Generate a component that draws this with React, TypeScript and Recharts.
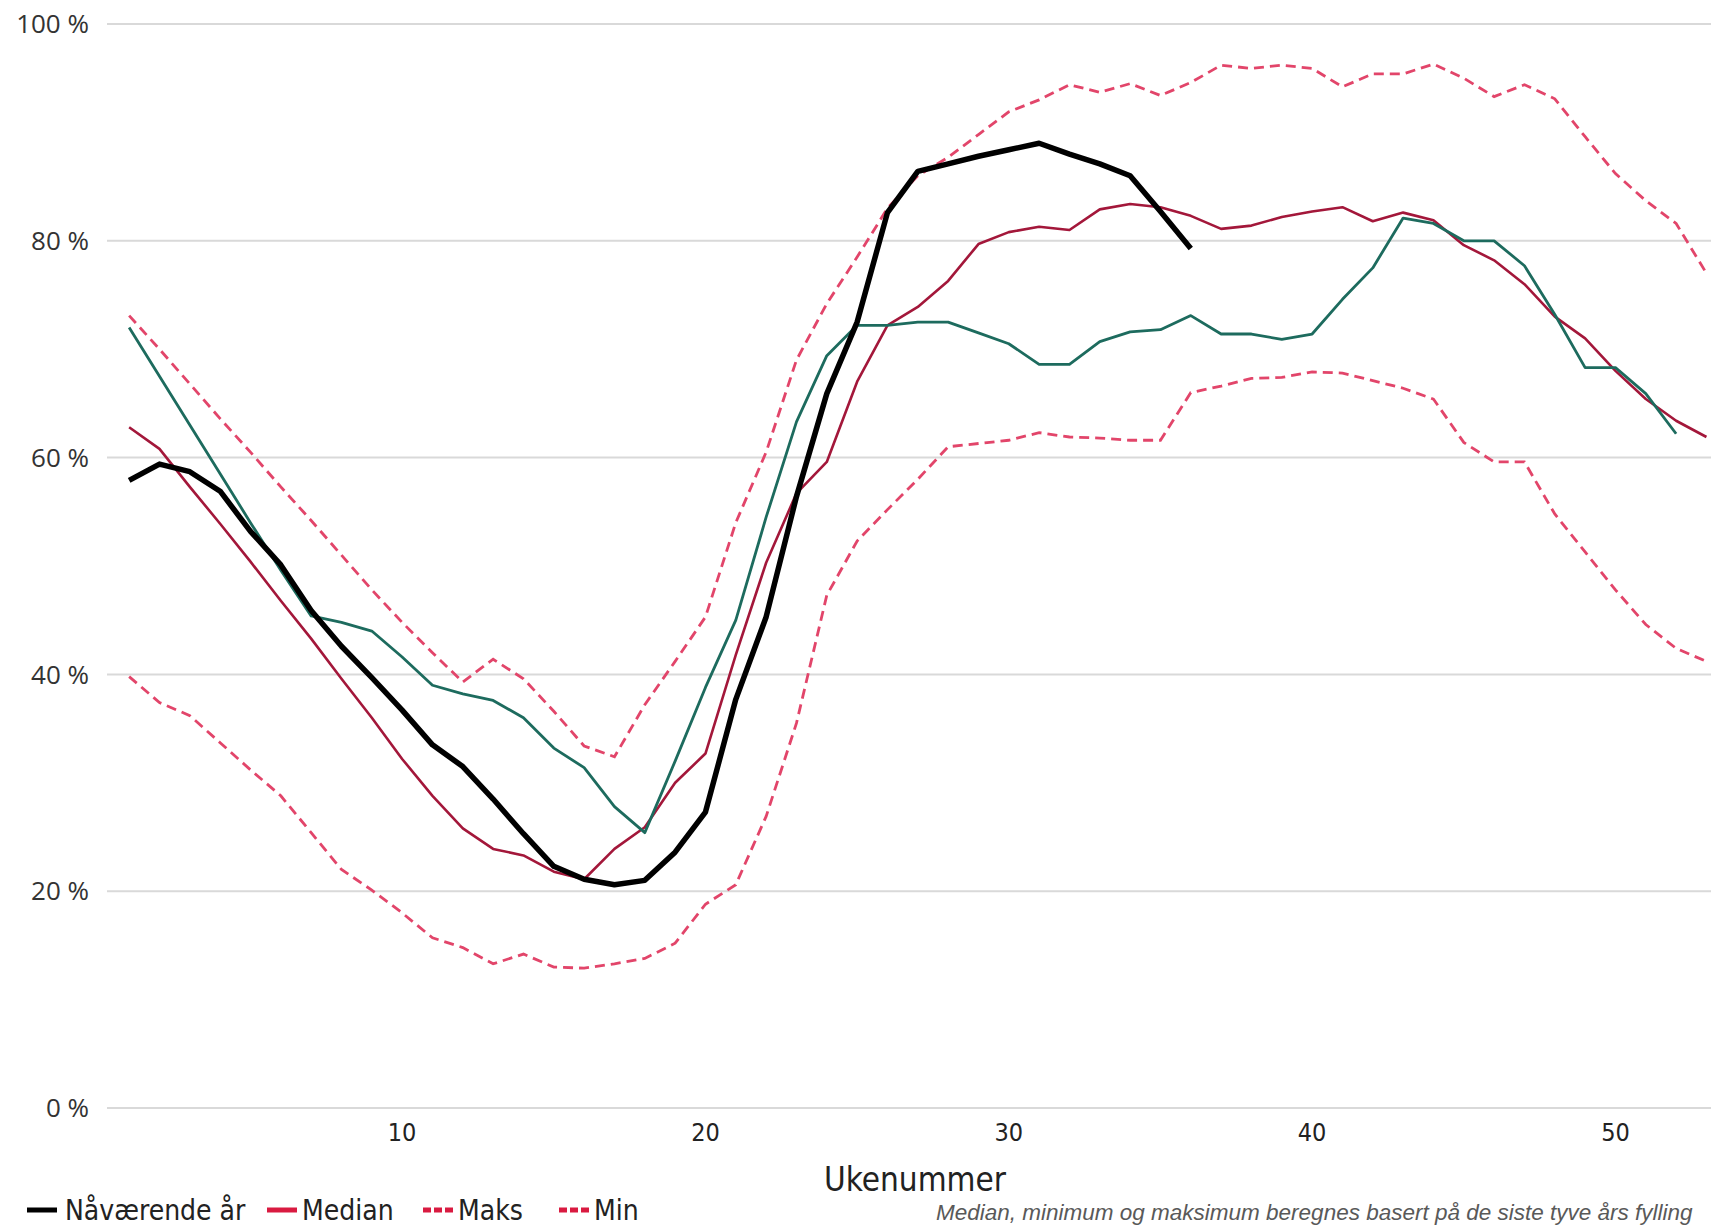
import { LineChart, Line, XAxis, YAxis, CartesianGrid, Legend } from "recharts";

// uke 1-53
const weeks = [
  1, 2, 3, 4, 5, 6, 7, 8, 9, 10, 11, 12, 13, 14, 15, 16, 17, 18, 19, 20, 21, 22, 23, 24, 25, 26, 27,
  28, 29, 30, 31, 32, 33, 34, 35, 36, 37, 38, 39, 40, 41, 42, 43, 44, 45, 46, 47, 48, 49, 50, 51, 52, 53,
];

const current = [
  57.9, 59.4, 58.7, 56.9, 53.2, 50.1, 45.9, 42.6, 39.7, 36.7, 33.5, 31.5, 28.5, 25.3, 22.3, 21.1, 20.6,
  21.0, 23.6, 27.3, 37.7, 45.3, 56.4, 65.9, 72.5, 82.6, 86.4, 87.1, 87.8, 88.4, 89.0, 88.0, 87.1, 86.0,
  82.7, 79.3,
];

const median = [
  62.8, 60.8, 57.3, 53.9, 50.4, 46.8, 43.3, 39.6, 36.0, 32.2, 28.8, 25.8, 23.9, 23.3, 21.8, 21.1, 23.9,
  25.9, 30.0, 32.7, 41.8, 50.3, 56.7, 59.6, 67.0, 72.2, 73.9, 76.3, 79.7, 80.8, 81.3, 81.0, 82.9, 83.4,
  83.1, 82.3, 81.1, 81.4, 82.2, 82.7, 83.1, 81.8, 82.6, 81.9, 79.6, 78.2, 76.0, 73.0, 71.0, 68.0, 65.4,
  63.4, 61.9,
];

const lastYear = [
  72.0, 67.5, 63.0, 58.5, 54.0, 49.6, 45.4, 44.8, 44.0, 41.6, 39.0, 38.2, 37.6, 36.0, 33.2, 31.4, 27.8,
  25.4, 32.0, 38.8, 45.0, 54.5, 63.3, 69.4, 72.2, 72.2, 72.5, 72.5, 71.5, 70.5, 68.6, 68.6, 70.7, 71.6,
  71.8, 73.1, 71.4, 71.4, 70.9, 71.4, 74.6, 77.5, 82.1, 81.6, 80.0, 80.0, 77.7, 73.2, 68.3, 68.3, 65.9,
  62.2,
];

const maks = [
  73.1, 70.0, 66.8, 63.6, 60.5, 57.3, 54.2, 51.0, 47.8, 44.8, 42.0, 39.3, 41.4, 39.6, 36.6, 33.4, 32.4,
  37.2, 41.2, 45.3, 54.0, 60.5, 69.0, 74.2, 78.5, 83.0, 86.0, 87.7, 89.8, 91.9, 93.0, 94.4, 93.7, 94.5,
  93.4, 94.6, 96.2, 95.9, 96.2, 95.9, 94.2, 95.4, 95.4, 96.3, 95.0, 93.3, 94.4, 93.1, 89.6, 86.2, 83.7,
  81.6, 77.0,
];

const min = [
  39.8, 37.4, 36.2, 33.7, 31.2, 28.8, 25.4, 22.0, 20.1, 18.0, 15.7, 14.8, 13.3, 14.2, 13.0, 12.9, 13.3,
  13.8, 15.2, 18.8, 20.6, 26.9, 35.5, 47.3, 52.3, 55.2, 58.0, 61.0, 61.3, 61.6, 62.3, 61.9, 61.8, 61.6,
  61.6, 66.0, 66.6, 67.3, 67.4, 67.9, 67.8, 67.1, 66.4, 65.4, 61.4, 59.6, 59.6, 54.8, 51.3, 47.8, 44.6,
  42.4, 41.2,
];

const xTicks = [10, 20, 30, 40, 50];
const yTicks = [0, 20, 40, 60, 80, 100];

const legendItems = [
  { label: "Nåværende år", color: "#000000", dashed: false },
  { label: "Median", color: "#d91a40", dashed: false },
  { label: "Maks", color: "#d91a40", dashed: true },
  { label: "Min", color: "#d91a40", dashed: true },
];
const footnote = "Median, minimum og maksimum beregnes basert på de siste tyve års fylling";

const data = weeks.map((w, i) => ({
  week: w,
  current: current[i],
  median: median[i],
  lastYear: lastYear[i],
  maks: maks[i],
  min: min[i],
}));

const COND = '"DejaVu Sans Condensed", "Liberation Sans Narrow", "DejaVu Sans", sans-serif';
const legendX = [27, 267, 423, 559];

function LegendBox() {
  return (
    <div style={{ position: "relative", width: 1711, height: 40, fontFamily: COND, fontStretch: "condensed" }}>
      {legendItems.map((it, i) => (
        <div
          key={it.label}
          style={{
            position: "absolute",
            left: legendX[i],
            top: 4,
            height: 40,
            display: "flex",
            alignItems: "center",
            gap: i === 0 ? 8 : 5,
            fontSize: 28,
            color: "#222",
            whiteSpace: "nowrap",
          }}
        >
          <svg width={30} height={8}>
            <line
              x1={0}
              y1={4}
              x2={30}
              y2={4}
              stroke={it.color}
              strokeWidth={5}
              strokeDasharray={it.dashed ? "8 3" : undefined}
            />
          </svg>
          <span>{it.label}</span>
        </div>
      ))}
      <div
        style={{
          position: "absolute",
          left: 936,
          top: 16,
          fontFamily: '"Liberation Sans", Arial, sans-serif',
          fontStyle: "italic",
          fontSize: 22.5,
          lineHeight: "22px",
          color: "#595959",
          whiteSpace: "nowrap",
        }}
      >
        {footnote}
      </div>
    </div>
  );
}

export default function App() {
  return (
    <div style={{ position: "absolute", left: 0, top: 0, width: 1711, height: 1226, background: "#fff", overflow: "hidden" }}>
      <LineChart width={1711} height={1226} data={data} margin={{ top: 24, right: 0, bottom: 0, left: 0 }}>
        <CartesianGrid vertical={false} stroke="#d9d9d9" strokeWidth={2} />
        <XAxis
          dataKey="week"
          type="number"
          domain={[0.27, 53.15]}
          allowDataOverflow
          ticks={xTicks}
          axisLine={false}
          tickLine={false}
          height={118}
          tickMargin={9}
          tick={{ fill: "#222", fontSize: 25, fontFamily: COND }}
          label={{
            value: "Ukenummer",
            position: "insideTop",
            offset: 60,
            dx: 6,
            fill: "#222",
            fontSize: 33,
            fontFamily: COND,
          }}
        />
        <YAxis
          domain={[0, 100]}
          ticks={yTicks}
          width={107}
          axisLine={false}
          tickLine={false}
          tickSize={6}
          tickMargin={12}
          tickFormatter={(v: number) => `${v} %`}
          tick={{ fill: "#333", fontSize: 26, fontFamily: '"Open Sans", sans-serif' }}
        />
        <Legend
          layout="horizontal"
          verticalAlign="middle"
          align="center"
          content={() => <LegendBox />}
          wrapperStyle={{ left: 0, top: 1186, width: 1711, height: 40 }}
        />
        <Line dataKey="maks" type="linear" stroke="#e2456a" strokeWidth={2.8} strokeDasharray="10 6" dot={false} isAnimationActive={false} />
        <Line dataKey="min" type="linear" stroke="#e2456a" strokeWidth={2.8} strokeDasharray="10 6" dot={false} isAnimationActive={false} />
        <Line dataKey="median" type="linear" stroke="#a3173a" strokeWidth={2.6} dot={false} isAnimationActive={false} strokeLinejoin="round" />
        <Line dataKey="lastYear" type="linear" stroke="#1d6b5e" strokeWidth={2.8} dot={false} isAnimationActive={false} strokeLinejoin="round" />
        <Line dataKey="current" type="linear" stroke="#000000" strokeWidth={5.5} dot={false} isAnimationActive={false} strokeLinejoin="round" />
      </LineChart>
    </div>
  );
}
